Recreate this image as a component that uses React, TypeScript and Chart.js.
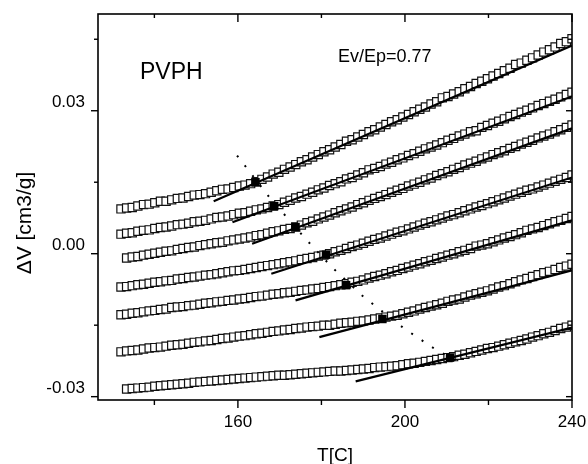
import React, { useEffect, useRef } from "react";
import { Chart, registerables } from "chart.js";

Chart.register(...registerables);

// Measurement temperatures shared by all runs [C]
const temperatures = [
  132.0, 133.35, 134.7, 136.05, 137.4, 138.75, 140.1, 141.45, 142.8, 144.15,
  145.5, 146.85, 148.2, 149.55, 150.9, 152.25, 153.6, 154.95, 156.3, 157.65,
  159.0, 160.35, 161.7, 163.05, 164.4, 165.75, 167.1, 168.45, 169.8, 171.15,
  172.5, 173.85, 175.2, 176.55, 177.9, 179.25, 180.6, 181.95, 183.3, 184.65,
  186.0, 187.35, 188.7, 190.05, 191.4, 192.75, 194.1, 195.45, 196.8, 198.15,
  199.5, 200.85, 202.2, 203.55, 204.9, 206.25, 207.6, 208.95, 210.3, 211.65,
  213.0, 214.35, 215.7, 217.05, 218.4, 219.75, 221.1, 222.45, 223.8, 225.15,
  226.5, 227.85, 229.2, 230.55, 231.9, 233.25, 234.6, 235.95, 237.3, 238.65,
  240.0,
];

// Volume change for each run [cm3/g], top curve first
const dvRun1 = [
  0.0094, 0.0096, 0.0097, 0.01, 0.0103, 0.0104, 0.0107, 0.011, 0.011, 0.0113,
  0.0116, 0.0117, 0.012, 0.0123, 0.0124, 0.0126, 0.0129, 0.0132, 0.0135, 0.0136,
  0.0139, 0.0142, 0.0144, 0.0147, 0.0151, 0.0156, 0.0161, 0.0167, 0.0171, 0.0177,
  0.0182, 0.0187, 0.0193, 0.0197, 0.0203, 0.0208, 0.0214, 0.0218, 0.0224, 0.0229,
  0.0236, 0.0239, 0.0245, 0.025, 0.0256, 0.026, 0.0266, 0.0271, 0.0277, 0.0281,
  0.0287, 0.0292, 0.0298, 0.0303, 0.0308, 0.0314, 0.0319, 0.0327, 0.033, 0.0335,
  0.034, 0.0346, 0.0351, 0.0357, 0.0362, 0.0367, 0.0373, 0.0378, 0.0384, 0.0389,
  0.0397, 0.04, 0.0406, 0.0411, 0.0417, 0.0423, 0.0428, 0.0434, 0.0441, 0.0445,
  0.0451,
];
const dvRun2 = [
  0.0041, 0.0043, 0.0044, 0.0047, 0.0049, 0.005, 0.0053, 0.0055, 0.0056, 0.0058,
  0.0061, 0.0062, 0.0064, 0.0067, 0.0068, 0.007, 0.0073, 0.0076, 0.0077, 0.0079,
  0.0082, 0.0085, 0.0086, 0.0089, 0.0092, 0.0094, 0.0097, 0.01, 0.0103, 0.0108,
  0.0112, 0.0117, 0.012, 0.0125, 0.0129, 0.0134, 0.0138, 0.0143, 0.0147, 0.0151,
  0.0157, 0.016, 0.0165, 0.017, 0.0176, 0.0179, 0.0183, 0.0188, 0.0192, 0.0197,
  0.0201, 0.0206, 0.021, 0.0215, 0.022, 0.0224, 0.0228, 0.0233, 0.0238, 0.0242,
  0.0247, 0.0251, 0.0256, 0.0258, 0.0265, 0.0269, 0.0274, 0.0278, 0.0283, 0.0288,
  0.0292, 0.0297, 0.0301, 0.0306, 0.0311, 0.0315, 0.032, 0.0324, 0.0329, 0.0334,
  0.0339,
];
const dvRun3 = [
  null, -0.0009, -0.0007, -0.0006, -0.0003, -0.0001, 0.0001, 0.0003, 0.0005, 0.0006,
  0.0009, 0.0011, 0.0013, 0.0014, 0.0017, 0.0019, 0.0021, 0.0023, 0.0024, 0.0027,
  0.0029, 0.0031, 0.0033, 0.0035, 0.0038, 0.004, 0.0043, 0.0046, 0.0048, 0.0051,
  0.0053, 0.0056, 0.006, 0.0065, 0.0068, 0.0073, 0.0077, 0.0081, 0.0086, 0.009,
  0.0094, 0.0098, 0.0103, 0.0107, 0.0112, 0.0116, 0.012, 0.0124, 0.0129, 0.0133,
  0.0137, 0.0142, 0.0146, 0.015, 0.0155, 0.0159, 0.0164, 0.0168, 0.0172, 0.0177,
  0.0181, 0.0186, 0.019, 0.0194, 0.0199, 0.0203, 0.0208, 0.0212, 0.0216, 0.0221,
  0.0225, 0.023, 0.0234, 0.0238, 0.0243, 0.0247, 0.0251, 0.0256, 0.026, 0.0265,
  0.027,
];
const dvRun4 = [
  -0.007, -0.0069, -0.0067, -0.0065, -0.0064, -0.0062, -0.006, -0.0059, -0.0057, -0.0056,
  -0.0053, -0.0052, -0.005, -0.0049, -0.0047, -0.0045, -0.0044, -0.0042, -0.004, -0.0038,
  -0.0036, -0.0035, -0.0033, -0.0031, -0.0029, -0.0027, -0.0025, -0.0023, -0.0021, -0.0019,
  -0.0017, -0.0015, -0.0012, -0.001, -0.0008, -0.0005, -0.0003, 0.0, 0.0004, 0.0007,
  0.0011, 0.0015, 0.0018, 0.0022, 0.0026, 0.003, 0.0033, 0.0037, 0.0041, 0.0045,
  0.0048, 0.0052, 0.0056, 0.006, 0.0064, 0.0067, 0.0071, 0.0075, 0.0079, 0.0082,
  0.0086, 0.009, 0.0094, 0.0098, 0.0101, 0.0105, 0.0109, 0.0113, 0.0117, 0.0121,
  0.0125, 0.0129, 0.0133, 0.0136, 0.014, 0.0144, 0.0148, 0.0152, 0.0156, 0.016,
  0.0165,
];
const dvRun5 = [
  -0.0128, -0.0127, -0.0125, -0.0124, -0.0122, -0.012, -0.0119, -0.0117, -0.0116, -0.0113,
  -0.0112, -0.0111, -0.0109, -0.0108, -0.0106, -0.0104, -0.0103, -0.0101, -0.01, -0.0098,
  -0.0097, -0.0095, -0.0094, -0.0092, -0.009, -0.0089, -0.0087, -0.0085, -0.0084, -0.0082,
  -0.0081, -0.0079, -0.0077, -0.0076, -0.0074, -0.0073, -0.0071, -0.0069, -0.0067, -0.0065,
  -0.0063, -0.006, -0.0058, -0.0055, -0.0051, -0.0048, -0.0045, -0.0042, -0.0038, -0.0035,
  -0.0031, -0.0028, -0.0024, -0.0021, -0.0017, -0.0014, -0.001, -0.0007, -0.0003, 0.0,
  0.0004, 0.0007, 0.0011, 0.0016, 0.0018, 0.0021, 0.0025, 0.0029, 0.0033, 0.0036,
  0.004, 0.0044, 0.0049, 0.0052, 0.0055, 0.0059, 0.0063, 0.0067, 0.007, 0.0074,
  0.0078,
];
const dvRun6 = [
  -0.0206, -0.0204, -0.0203, -0.0202, -0.02, -0.0198, -0.0197, -0.0196, -0.0194, -0.0192,
  -0.0191, -0.019, -0.0188, -0.0186, -0.0185, -0.0183, -0.0182, -0.018, -0.0178, -0.0177,
  -0.0175, -0.0173, -0.0172, -0.017, -0.0168, -0.0167, -0.0165, -0.0163, -0.0162, -0.016,
  -0.0159, -0.0157, -0.0156, -0.0154, -0.0153, -0.0152, -0.015, -0.015, -0.0148, -0.0146,
  -0.0145, -0.0144, -0.0142, -0.0141, -0.0139, -0.0137, -0.0135, -0.0133, -0.0131, -0.0129,
  -0.0126, -0.0123, -0.012, -0.0116, -0.0113, -0.011, -0.0107, -0.0104, -0.01, -0.0097,
  -0.0095, -0.0091, -0.0087, -0.0084, -0.0081, -0.0078, -0.0074, -0.007, -0.0067, -0.0063,
  -0.0059, -0.0055, -0.0052, -0.0048, -0.0044, -0.004, -0.0037, -0.0033, -0.0029, -0.0026,
  -0.0022,
];
const dvRun7 = [
  null, -0.0284, -0.0283, -0.0282, -0.0281, -0.028, -0.0278, -0.0277, -0.0276, -0.0275,
  -0.0274, -0.0273, -0.0272, -0.027, -0.0269, -0.0268, -0.0267, -0.0266, -0.0265, -0.0264,
  -0.0263, -0.0262, -0.0261, -0.026, -0.0259, -0.0258, -0.0257, -0.0256, -0.0255, -0.0255,
  -0.0254, -0.0253, -0.0252, -0.0251, -0.025, -0.0249, -0.0248, -0.0247, -0.0246, -0.0246,
  -0.0245, -0.0244, -0.0243, -0.0242, -0.0241, -0.0239, -0.0238, -0.0237, -0.0236, -0.0235,
  -0.0233, -0.0231, -0.023, -0.0228, -0.0226, -0.0224, -0.0222, -0.022, -0.0218, -0.0216,
  -0.0213, -0.0211, -0.0208, -0.0205, -0.0202, -0.0199, -0.0197, -0.0194, -0.0191, -0.0188,
  -0.0185, -0.0182, -0.0179, -0.0175, -0.0172, -0.0168, -0.0165, -0.0161, -0.0157, -0.0154,
  -0.015,
];
const runs = [dvRun1, dvRun2, dvRun3, dvRun4, dvRun5, dvRun6, dvRun7];

// Linear fits of the melt branch (start point below the curve, end at 240 C)
const fitStartT = [154.2, 158.7, 163.4, 168.0, 173.8, 179.5, 188.2];
const fitStartDv = [0.011, 0.0066, 0.0021, -0.0042, -0.0098, -0.0175, -0.0268];
const fitEndT = [240, 240, 240, 240, 240, 240, 240];
const fitEndDv = [0.0437, 0.033, 0.0263, 0.016, 0.007, -0.0035, -0.0155];

// Transition points (filled squares)
const tgT = [164.2, 168.7, 173.8, 181.1, 185.9, 194.6, 210.8];
const tgDv = [0.015, 0.01, 0.0056, -0.0002, -0.0066, -0.0137, -0.0218];

// Dotted guide through the transitions
const guideT = [159.8, 167.4, 175.8, 182.6, 189.9, 199.8, 207.0, 214.2];
const guideDv = [0.0206, 0.012, 0.0035, -0.0029, -0.0089, -0.0157, -0.0199, -0.0234];

// Axis ticks
const xMajorTicks = [160, 200, 240];
const xMinorTicks = [140, 180, 220];
const yMajorTicks = [-0.03, 0, 0.03];
const yMinorTicks = [-0.015, 0.015, 0.045];

const FONT = '"Liberation Sans", Arial, Helvetica, sans-serif';

// Keep the plot box fixed: drop the extra room Chart.js reserves for edge labels
const noEdgePadding = (s: any) => {
  s.paddingLeft = 0;
  s.paddingRight = 0;
  s.paddingTop = 0;
  s.paddingBottom = 0;
};

const frameAndLabels = {
  id: "frameAndLabels",
  afterDraw(chart: any) {
    const { ctx, chartArea: a, scales } = chart;
    const xs = scales.x;
    const ys = scales.y;
    ctx.save();
    ctx.strokeStyle = "#000";
    ctx.lineWidth = 1.6;
    ctx.strokeRect(a.left, a.top, a.right - a.left, a.bottom - a.top);
    const seg = (x1: number, y1: number, x2: number, y2: number) => {
      ctx.beginPath();
      ctx.moveTo(x1, y1);
      ctx.lineTo(x2, y2);
      ctx.stroke();
    };
    ctx.lineWidth = 1.4;
    xMajorTicks.forEach((v) => {
      const px = xs.getPixelForValue(v);
      seg(px, a.bottom, px, a.bottom + 8);
      seg(px, a.top, px, a.top + 8);
    });
    xMinorTicks.forEach((v) => {
      const px = xs.getPixelForValue(v);
      seg(px, a.bottom, px, a.bottom + 5);
      seg(px, a.top, px, a.top + 4);
    });
    yMajorTicks.forEach((v) => {
      const py = ys.getPixelForValue(v);
      seg(a.left - 7, py, a.left, py);
      seg(a.right - 6, py, a.right, py);
    });
    yMinorTicks.forEach((v) => {
      const py = ys.getPixelForValue(v);
      seg(a.left - 4, py, a.left, py);
      seg(a.right - 4, py, a.right, py);
    });

    ctx.fillStyle = "#000";
    ctx.textBaseline = "alphabetic";
    ctx.textAlign = "left";
    ctx.font = `23px ${FONT}`;
    ctx.fillText("PVPH", 140, 79);
    ctx.font = `18px ${FONT}`;
    ctx.fillText("Ev/Ep=0.77", 338, 61.5);

    ctx.textAlign = "center";
    ctx.font = `19px ${FONT}`;
    ctx.fillText("T[C]", (a.left + a.right) / 2, 461);

    ctx.save();
    ctx.translate(31, 223);
    ctx.rotate(-Math.PI / 2);
    ctx.font = `21px ${FONT}`;
    ctx.fillText("\u0394V [cm3/g]", 0, 0);
    ctx.restore();
    ctx.restore();
  },
};

export default function App() {
  const canvasRef = useRef<HTMLCanvasElement | null>(null);

  useEffect(() => {
    document.body.style.margin = "0";
    const canvas = canvasRef.current;
    if (!canvas) return;

    const runSets = runs.map((vals) => ({
      data: temperatures
        .map((t, i) => ({ x: t, y: vals[i] }))
        .filter((p) => p.y !== null),
      showLine: false,
      pointStyle: "rect",
      pointRadius: 5.8,
      pointBorderWidth: 1.2,
      pointBorderColor: "#111",
      pointBackgroundColor: "#fff",
      order: 4,
    }));

    const fitSets = fitStartT.map((t0, i) => ({
      data: [
        { x: t0, y: fitStartDv[i] },
        { x: fitEndT[i], y: fitEndDv[i] },
      ],
      showLine: true,
      borderColor: "#000",
      borderWidth: 2.2,
      pointRadius: 0,
      order: 3,
    }));

    const guideSet = {
      data: guideT.map((t, i) => ({ x: t, y: guideDv[i] })),
      showLine: true,
      borderColor: "#000",
      borderWidth: 2,
      borderDash: [2, 10.5],
      pointRadius: 0,
      order: 2,
    };

    const tgSet = {
      data: tgT.map((t, i) => ({ x: t, y: tgDv[i] })),
      showLine: false,
      pointStyle: "rect",
      pointRadius: 6,
      pointBorderWidth: 0,
      pointBackgroundColor: "#000",
      order: 1,
    };

    const chart = new Chart(canvas, {
      type: "scatter",
      data: { datasets: [tgSet, guideSet, ...fitSets, ...runSets] as any },
      options: {
        responsive: false,
        animation: false,
        events: [],
        layout: { autoPadding: false, padding: { top: 14, right: 16, left: 0, bottom: 0 } },
        plugins: { legend: { display: false }, tooltip: { enabled: false } },
        scales: {
          x: {
            type: "linear",
            min: 126.5,
            max: 240,
            grid: { display: false, drawTicks: false },
            border: { display: false },
            afterBuildTicks: (s: any) => {
              s.ticks = xMajorTicks.map((value) => ({ value }));
            },
            afterFit: (s: any) => {
              s.height = 64;
              noEdgePadding(s);
            },
            ticks: {
              color: "#000",
              padding: 12,
              font: { family: FONT, size: 17 },
              maxRotation: 0,
              callback: (v: any) => String(v),
            },
          },
          y: {
            type: "linear",
            min: -0.0307,
            max: 0.0503,
            grid: { display: false, drawTicks: false },
            border: { display: false },
            afterBuildTicks: (s: any) => {
              s.ticks = yMajorTicks.map((value) => ({ value }));
            },
            afterFit: (s: any) => {
              s.width = 98;
              noEdgePadding(s);
            },
            ticks: {
              color: "#000",
              padding: 13,
              labelOffset: -8,
              font: { family: FONT, size: 17 },
              callback: (v: any) => Number(v).toFixed(2),
            },
          },
        },
      },
      plugins: [frameAndLabels],
    });

    return () => chart.destroy();
  }, []);

  return (
    <div style={{ width: 588, height: 464 }}>
      <canvas ref={canvasRef} width={588} height={464} style={{ display: "block" }} />
    </div>
  );
}
